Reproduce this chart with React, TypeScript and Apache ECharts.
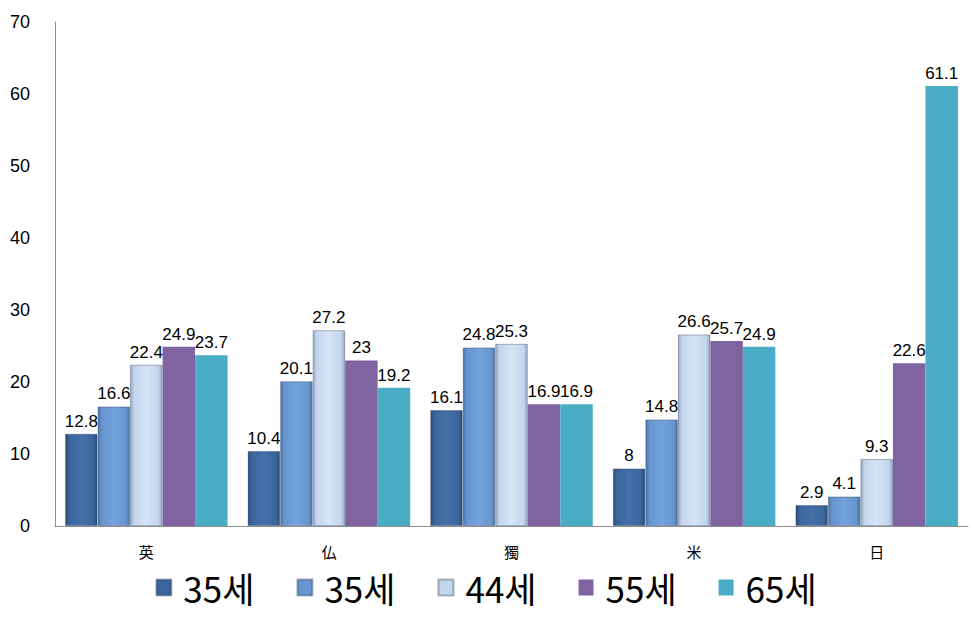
import React, { useEffect, useRef } from "react";
import * as echarts from "echarts";

const categories = ["英", "仏", "獨", "米", "日"];
const legendNames = ["35세", "35세", "44세", "55세", "65세"];
const s1 = [12.8, 10.4, 16.1, 8, 2.9];
const s2 = [16.6, 20.1, 24.8, 14.8, 4.1];
const s3 = [22.4, 27.2, 25.3, 26.6, 9.3];
const s4 = [24.9, 23, 16.9, 25.7, 22.6];
const s5 = [23.7, 19.2, 16.9, 24.9, 61.1];
const seriesData = [s1, s2, s3, s4, s5];
const yTicks = { min: 0, max: 70, interval: 10 };

const bevel = (edge: string, base: string, hi: string) =>
  new echarts.graphic.LinearGradient(0, 0, 1, 0, [
    { offset: 0, color: edge },
    { offset: 0.12, color: base },
    { offset: 0.5, color: hi },
    { offset: 0.88, color: base },
    { offset: 1, color: edge },
  ]);

const fills = [
  bevel("#2b4e7c", "#3b659b", "#4371aa"),
  bevel("#4d77aa", "#6795d0", "#74a2dc"),
  bevel("#9aaec8", "#c4d6ee", "#d6e4f6"),
  "#8064a2",
  "#4bacc6",
];
const legendColors = ["#3b659b", "#6795d0", "#c4d6ee", "#8064a2", "#4bacc6"];

export default function App() {
  const ref = useRef<HTMLDivElement>(null);
  useEffect(() => {
    if (!ref.current) return;
    const chart = echarts.init(ref.current, undefined, { renderer: "svg" });
    chart.setOption({
      animation: false,
      backgroundColor: "#ffffff",
      grid: { left: 55, right: 4, top: 22, bottom: 98 },
      legend: {
        left: "center",
        top: 565,
        itemWidth: 15,
        itemHeight: 16,
        itemGap: 42,
        icon: "rect",
        data: legendNames.map((n, i) => ({
          name: n + " ".repeat(i),
          itemStyle: { color: legendColors[i] },
        })),
        formatter: (name: string) => name.trim(),
        textStyle: {
          fontSize: 35,
          lineHeight: 34,
          padding: [0, 0, 0, 7],
          color: "#000",
          fontFamily: "Noto Sans CJK KR, sans-serif",
        },
      },
      xAxis: {
        type: "category",
        data: categories,
        axisLine: { lineStyle: { color: "#8c8c8c" } },
        axisTick: { show: false },
        axisLabel: {
          color: "#000",
          fontSize: 15,
          lineHeight: 16,
          margin: 17,
          fontFamily: "Noto Sans CJK JP, sans-serif",
        },
      },
      yAxis: {
        type: "value",
        min: yTicks.min,
        max: yTicks.max,
        interval: yTicks.interval,
        axisLine: { show: true, lineStyle: { color: "#8c8c8c" } },
        axisTick: { show: false },
        splitLine: { show: false },
        axisLabel: {
          color: "#000",
          fontSize: 18,
          margin: 25,
          fontFamily: "Liberation Sans, sans-serif",
        },
      },
      series: seriesData.map((d, i) => ({
        name: legendNames[i] + " ".repeat(i),
        type: "bar",
        data: d,
        barGap: "0%",
        barCategoryGap: "11%",
        itemStyle: {
          color: fills[i],
          borderColor: i < 3 ? "rgba(30,50,80,0.35)" : undefined,
          borderWidth: i < 3 ? 1 : 0,
        },
        label: {
          show: true,
          position: "top",
          distance: 4,
          color: "#000",
          fontSize: 17,
          fontFamily: "Liberation Sans, sans-serif",
        },
      })),
    });
    return () => chart.dispose();
  }, []);
  return (
    <div
      ref={ref}
      style={{ position: "absolute", left: 0, top: 0, width: 972, height: 624 }}
    />
  );
}
